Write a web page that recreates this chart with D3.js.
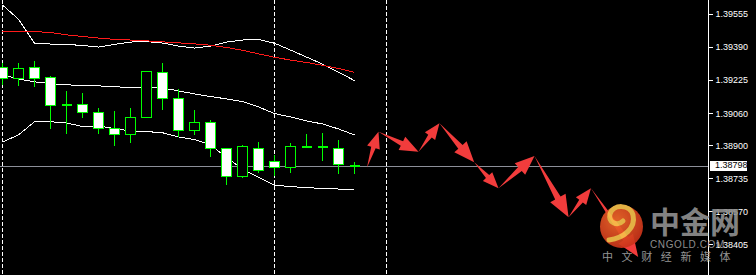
<!DOCTYPE html>
<html>
<head>
<meta charset="utf-8">
<script src="https://cdn.jsdelivr.net/npm/d3@7"></script>
<style>
  body { margin: 0; background: #000; }
  svg { display: block; }
</style>
</head>
<body>
<div id="chart-area"><svg></svg></div>
<script>
const chartSize = { width: 756, height: 275 };
const axisX = 708.5;

// candles, oldest first
const opens  = [1.39287, 1.39231, 1.39289, 1.39239, 1.39101, 1.39104, 1.39064, 1.38984, 1.38954, 1.39039, 1.39265, 1.39134,
                1.38974, 1.39014, 1.38884, 1.38743, 1.38884, 1.38820, 1.38790, 1.38892, 1.38889, 1.38882, 1.38805];
const highs  = [1.39309, 1.39312, 1.39320, 1.39245, 1.39171, 1.39159, 1.39087, 1.39071, 1.39087, 1.39272, 1.39312, 1.39181,
                1.39076, 1.39026, 1.38884, 1.38899, 1.38916, 1.38851, 1.38909, 1.38954, 1.38961, 1.38926, 1.38816];
const lows   = [1.39201, 1.39197, 1.39192, 1.38979, 1.38954, 1.39034, 1.38954, 1.38897, 1.38909, 1.39039, 1.39076, 1.38942,
                1.38951, 1.38843, 1.38701, 1.38738, 1.38763, 1.38748, 1.38763, 1.38892, 1.38823, 1.38755, 1.38758];
const closes = [1.39231, 1.39284, 1.39234, 1.39099, 1.39101, 1.39064, 1.38984, 1.38954, 1.39039, 1.39267, 1.39134, 1.38974,
                1.39014, 1.38881, 1.38743, 1.38891, 1.38775, 1.38790, 1.38894, 1.38892, 1.38889, 1.38805, 1.38798];

// bollinger bands and moving average
const upperBand  = [1.39600, 1.39529, 1.39409, 1.39405, 1.39403, 1.39398, 1.39390, 1.39403, 1.39415, 1.39417, 1.39410, 1.39395,
                    1.39385, 1.39395, 1.39415, 1.39425, 1.39428, 1.39409, 1.39375, 1.39340, 1.39305, 1.39265, 1.39222];
const middleBand = [1.39250, 1.39231, 1.39216, 1.39208, 1.39201, 1.39199, 1.39196, 1.39193, 1.39186, 1.39188, 1.39186, 1.39171,
                    1.39156, 1.39143, 1.39131, 1.39118, 1.39091, 1.39058, 1.39041, 1.39021, 1.39006, 1.38981, 1.38951];
const lowerBand  = [1.38916, 1.38951, 1.39017, 1.39017, 1.39011, 1.38993, 1.38996, 1.38983, 1.38971, 1.38968, 1.38962, 1.38941,
                    1.38928, 1.38901, 1.38839, 1.38781, 1.38739, 1.38701, 1.38693, 1.38688, 1.38684, 1.38681, 1.38680];
const maLine     = [1.39470, 1.39468, 1.39467, 1.39463, 1.39451, 1.39443, 1.39435, 1.39428, 1.39425, 1.39421, 1.39416, 1.39411,
                    1.39406, 1.39399, 1.39388, 1.39374, 1.39356, 1.39339, 1.39325, 1.39313, 1.39299, 1.39283, 1.39264];

// forecast path drawn with arrows (bar position, price)
const forecastBars   = [22.78, 23.5, 26.0, 27.31, 29.48, 31.0, 33.25, 35.38, 36.78, 39.73];
const forecastPrices = [1.38788, 1.38967, 1.38867, 1.39009, 1.38815, 1.38685, 1.38846, 1.38540, 1.38685, 1.38342];

const separators = [0, 17, 24];
const lastPrice = 1.38798;
const priceTicks = [1.39555, 1.39390, 1.39225, 1.39060, 1.38900, 1.38735, 1.38570, 1.38405, 1.38240];

const x = d3.scaleLinear().domain([0, 44]).range([2.5, 706.5]);
const y = d3.scaleLinear().domain([1.38405, 1.39555]).range([244.3, 14]);
const fmt = d3.format(".5f");

const svg = d3.select("#chart-area svg")
  .attr("width", chartSize.width)
  .attr("height", chartSize.height)
  .style("background", "#000");

// period separators
svg.append("g")
  .selectAll("line")
  .data(separators)
  .join("line")
  .attr("x1", d => Math.floor(x(d)) + 0.5)
  .attr("x2", d => Math.floor(x(d)) + 0.5)
  .attr("y1", 0)
  .attr("y2", chartSize.height)
  .attr("stroke", "#fff")
  .attr("stroke-dasharray", "4,2")
  .attr("shape-rendering", "crispEdges");

// current price line
svg.append("line")
  .attr("x1", 0).attr("x2", axisX)
  .attr("y1", Math.round(y(lastPrice)) + 0.5)
  .attr("y2", Math.round(y(lastPrice)) + 0.5)
  .attr("stroke", "#8c8f99")
  .attr("shape-rendering", "crispEdges");

// indicator lines
const lineOf = values => d3.line().x((v, i) => x(i)).y(v => y(v))(values);
const lines = [
  { values: upperBand, color: "#fff" },
  { values: middleBand, color: "#fff" },
  { values: lowerBand, color: "#fff" },
  { values: maLine, color: "#ff1a1a" }
];
svg.append("g")
  .selectAll("path")
  .data(lines)
  .join("path")
  .attr("d", d => lineOf(d.values))
  .attr("fill", "none")
  .attr("stroke", d => d.color)
  .attr("stroke-width", 1)
  .attr("shape-rendering", "crispEdges");

// candles
const candles = opens.map((o, i) => ({ i, o, h: highs[i], l: lows[i], c: closes[i] }));
const cg = svg.append("g").attr("shape-rendering", "crispEdges");
const candle = cg.selectAll("g").data(candles).join("g");

candle.append("line")
  .attr("x1", d => x(d.i)).attr("x2", d => x(d.i))
  .attr("y1", d => y(d.h)).attr("y2", d => y(d.l))
  .attr("stroke", "#00ff00");

candle.filter(d => Math.abs(y(d.o) - y(d.c)) >= 2)
  .append("rect")
  .attr("x", d => x(d.i) - 5)
  .attr("width", 10)
  .attr("y", d => Math.min(y(d.o), y(d.c)))
  .attr("height", d => Math.abs(y(d.o) - y(d.c)))
  .attr("fill", d => (d.c < d.o ? "#fff" : "#000"))
  .attr("stroke", "#00ff00");

candle.filter(d => Math.abs(y(d.o) - y(d.c)) < 2)
  .append("line")
  .attr("x1", d => x(d.i) - 5).attr("x2", d => x(d.i) + 5)
  .attr("y1", d => y(d.c)).attr("y2", d => y(d.c))
  .attr("stroke", "#00ff00")
  .attr("stroke-width", 2);

// forecast arrows
const pts = forecastBars.map((b, i) => [x(b), y(forecastPrices[i])]);
const arrow = (p1, p2) => {
  const dx = p2[0] - p1[0], dy = p2[1] - p1[1];
  const len = Math.hypot(dx, dy);
  const ux = dx / len, uy = dy / len, nx = -uy, ny = ux;
  const headLen = Math.min(22, 6 + len * 0.28);
  const headW = headLen * 0.8;
  const shaftW = headW * 0.35;
  const bx = p2[0] - ux * headLen, by = p2[1] - uy * headLen;
  return [
    [p1[0], p1[1]],
    [bx + nx * shaftW / 2, by + ny * shaftW / 2],
    [bx + nx * headW / 2, by + ny * headW / 2],
    [p2[0], p2[1]],
    [bx - nx * headW / 2, by - ny * headW / 2],
    [bx - nx * shaftW / 2, by - ny * shaftW / 2]
  ];
};
svg.append("g")
  .selectAll("polygon")
  .data(d3.pairs(pts))
  .join("polygon")
  .attr("points", d => arrow(d[0], d[1]).map(p => p.join(",")).join(" "))
  .attr("fill", "#f23c3c");

// price axis
svg.append("rect")
  .attr("x", axisX + 0.5).attr("y", 0)
  .attr("width", chartSize.width - axisX).attr("height", chartSize.height)
  .attr("fill", "#000");
svg.append("line")
  .attr("x1", axisX).attr("x2", axisX)
  .attr("y1", 0).attr("y2", chartSize.height)
  .attr("stroke", "#fff");

const yAxis = d3.axisRight(y).tickValues(priceTicks).tickFormat(fmt).tickSize(4).tickPadding(3);
const ag = svg.append("g")
  .attr("transform", `translate(${axisX},0)`)
  .call(yAxis);
ag.select(".domain").remove();
ag.selectAll("line").attr("stroke", "#fff").attr("shape-rendering", "crispEdges");
ag.selectAll("text")
  .attr("fill", "#fff")
  .attr("font-family", "'Liberation Sans', Arial, sans-serif")
  .attr("font-size", 9);

// last price label
const ly = y(lastPrice);
svg.append("rect")
  .attr("x", 710).attr("y", Math.round(ly) - 5)
  .attr("width", 37).attr("height", 10)
  .attr("fill", "#fff");
svg.append("text")
  .attr("x", 715).attr("y", ly)
  .attr("dy", "0.32em")
  .attr("fill", "#000")
  .attr("font-family", "'Liberation Sans', Arial, sans-serif")
  .attr("font-size", 9)
  .text(fmt(lastPrice));

// watermark logo
const logo = svg.append("g").attr("opacity", 0.92);
const grad = svg.append("defs").append("radialGradient")
  .attr("id", "logoGrad").attr("cx", "40%").attr("cy", "35%").attr("r", "70%");
grad.append("stop").attr("offset", "0%").attr("stop-color", "#f26a2a");
grad.append("stop").attr("offset", "100%").attr("stop-color", "#c8301a");
logo.append("circle")
  .attr("cx", 621.5).attr("cy", 226.5).attr("r", 21.5)
  .attr("fill", "url(#logoGrad)");
logo.append("path")
  .attr("d", "M609 240 C624 238 636 228 633 215 C630 204 613 204 610 214 C608 222 617 227 623 221")
  .attr("fill", "none")
  .attr("stroke", "#f7c04a")
  .attr("stroke-width", 5)
  .attr("stroke-linecap", "round");
logo.append("text")
  .attr("x", 650).attr("y", 233)
  .attr("fill", "#8e8e8e")
  .attr("font-family", "'Noto Sans CJK SC', sans-serif")
  .attr("font-weight", "bold")
  .attr("font-size", 30)
  .text("中金网");
logo.append("text")
  .attr("x", 650).attr("y", 247.5)
  .attr("fill", "#9a9a9a")
  .attr("font-family", "'Liberation Sans', Arial, sans-serif")
  .attr("font-size", 10)
  .attr("letter-spacing", 0.6)
  .text("CNGOLD.COM");
logo.append("text")
  .attr("x", 602).attr("y", 261)
  .attr("fill", "#a0a0a0")
  .attr("font-family", "'Noto Sans CJK SC', sans-serif")
  .attr("font-size", 11)
  .attr("letter-spacing", 8.6)
  .text("中文财经新媒体");
</script>
</body>
</html>
